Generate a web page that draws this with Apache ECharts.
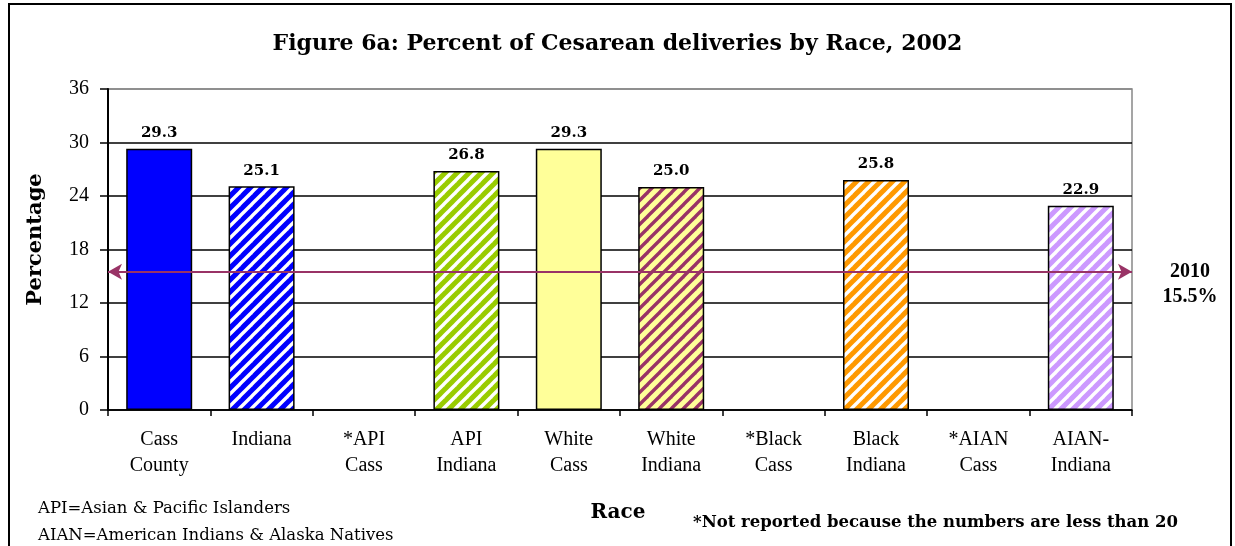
<!DOCTYPE html>
<html>
<head>
<meta charset="utf-8">
<script src="https://cdn.jsdelivr.net/npm/echarts@6/dist/echarts.min.js"></script>
<style>
  html, body { margin: 0; padding: 0; background: #fff; }
  #main { width: 1235px; height: 546px; }
</style>
</head>
<body>
<div id="main"></div>
<script>
var categories = ['Cass\nCounty', 'Indiana', '*API\nCass', 'API\nIndiana', 'White\nCass',
    'White\nIndiana', '*Black\nCass', 'Black\nIndiana', '*AIAN\nCass', 'AIAN-\nIndiana'];
var values = [29.3, 25.1, null, 26.8, 29.3, 25.0, null, 25.8, null, 22.9];
var yTicks = [0, 6, 12, 18, 24, 30, 36];
var target = 15.5;
var targetYear = '2010';

// fill for each bar: [base colour, stripe colour or null]
var fills = [
    ['#0000ff', null],
    ['#0000ff', '#ffffff'],
    ['#ffffff', null],
    ['#99cc00', '#ffffff'],
    ['#ffff99', null],
    ['#ffff99', '#993366'],
    ['#ffffff', null],
    ['#ff9900', '#ffffff'],
    ['#ffffff', null],
    ['#cc99ff', '#ffffff']
];

// diagonal stripe tile, repeats seamlessly
function stripes(base, line) {
    var s = 12;
    var c = document.createElement('canvas');
    c.width = s; c.height = s;
    var ctx = c.getContext('2d');
    ctx.fillStyle = base;
    ctx.fillRect(0, 0, s, s);
    ctx.strokeStyle = line;
    ctx.lineWidth = 3.4;
    for (var k = -1; k <= 1; k++) {
        ctx.beginPath();
        ctx.moveTo(k * s - s, 2 * s);
        ctx.lineTo(k * s + 2 * s, -s);
        ctx.stroke();
    }
    return { image: c, repeat: 'repeat' };
}

var serif = '"Liberation Serif", "Times New Roman", serif';
var wide = '"DejaVu Serif", serif';

var barData = values.map(function (v, i) {
    var f = fills[i];
    return {
        value: v,
        itemStyle: { color: f[1] ? stripes(f[0], f[1]) : f[0] }
    };
});

var myChart = echarts.init(document.getElementById('main'));

option = {
    animation: false,
    backgroundColor: '#fff',
    title: {
        text: 'Figure 6a: Percent of Cesarean deliveries by Race, 2002',
        left: 'center',
        top: 28,
        padding: [5, 15, 5, 5],
        textStyle: { fontFamily: wide, fontSize: 22, fontWeight: 'bold', color: '#000' }
    },
    grid: {
        left: 108, right: 103, top: 89, bottom: 136,
        show: true, borderColor: '#888', borderWidth: 1.5
    },
    xAxis: {
        type: 'category',
        data: categories,
        name: 'Race',
        nameLocation: 'middle',
        nameGap: 93,
        nameTextStyle: { fontFamily: wide, fontSize: 20, fontWeight: 'bold', color: '#000', padding: [0, 4, 0, 0] },
        axisLine: { lineStyle: { color: '#000', width: 1.5 } },
        axisTick: { show: true, length: 6, lineStyle: { color: '#000', width: 1.5 } },
        axisLabel: { interval: 0, margin: 17, fontFamily: serif, fontSize: 20, lineHeight: 26, color: '#000' }
    },
    yAxis: {
        type: 'value',
        min: yTicks[0],
        max: yTicks[yTicks.length - 1],
        interval: 6,
        name: 'Percentage',
        nameLocation: 'middle',
        nameGap: 62,
        nameTextStyle: { fontFamily: wide, fontSize: 21, fontWeight: 'bold', color: '#000', padding: [0, 0, 0, 20] },
        axisLine: { show: true, lineStyle: { color: '#000', width: 2 } },
        axisTick: { show: true, length: 8, lineStyle: { color: '#000', width: 1.5 } },
        axisLabel: { margin: 19, fontFamily: serif, fontSize: 20, color: '#000' },
        splitLine: { lineStyle: { color: ['#000', '#000', '#000', '#000', '#000', '#000', '#888'], width: 1.5 } }
    },
    series: [{
        type: 'bar',
        data: barData,
        barWidth: 66,
        itemStyle: { borderColor: '#000', borderWidth: 1.5 },
        label: {
            show: true,
            position: 'top',
            distance: 8,
            fontFamily: wide,
            fontSize: 15,
            fontWeight: 'bold',
            color: '#000',
            formatter: function (p) { return p.value == null ? '' : p.value.toFixed(1); }
        },
        markLine: {
            silent: true,
            symbol: ['arrow', 'arrow'],
            symbolSize: [12, 14],
            lineStyle: { color: '#993366', width: 2, type: 'solid' },
            label: {
                show: true,
                position: 'end',
                distance: 58,
                // blank first line keeps the year level with the arrow
                formatter: ' \n' + targetYear + '\n' + target + '%',
                fontFamily: serif,
                fontSize: 20,
                fontWeight: 'bold',
                lineHeight: 25,
                align: 'center',
                color: '#000'
            },
            data: [{ yAxis: target }]
        }
    }],
    graphic: [
        {
            type: 'rect',
            shape: { x: 9, y: 4, width: 1222, height: 560 },
            style: { fill: null, stroke: '#000', lineWidth: 2 },
            silent: true
        },
        {
            type: 'text', left: 38, top: 500,
            style: { text: 'API=Asian & Pacific Islanders', font: '16.5px ' + wide, fill: '#000' }
        },
        {
            type: 'text', left: 38, top: 527,
            style: { text: 'AIAN=American Indians & Alaska Natives', font: '16.5px ' + wide, fill: '#000' }
        },
        {
            type: 'text', left: 693, top: 514,
            style: { text: '*Not reported because the numbers are less than 20', font: 'bold 16.5px ' + wide, fill: '#000' }
        }
    ]
};

myChart.setOption(option);
</script>
</body>
</html>
